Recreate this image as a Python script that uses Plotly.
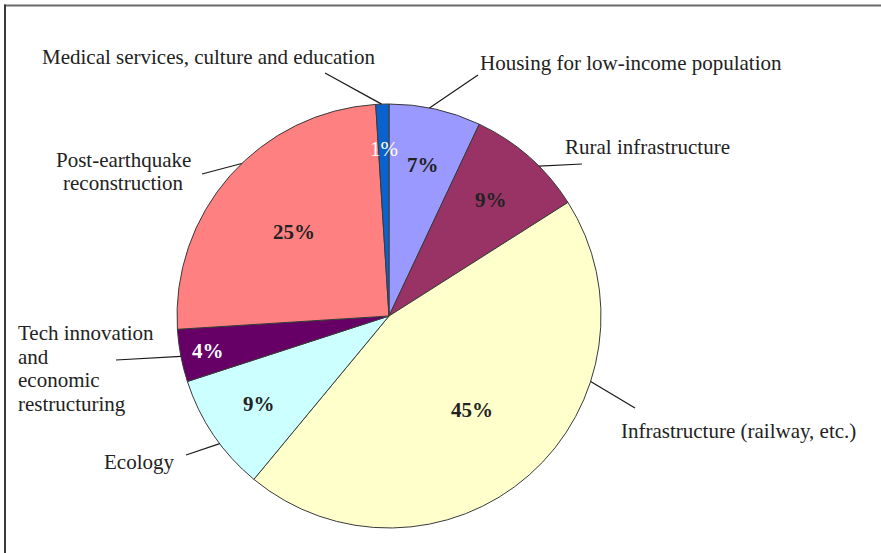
import math
import plotly.graph_objects as go

# Funding structure by sector (percent of total), clockwise from 12 o'clock
sectors = [
    "Housing for low-income population",
    "Rural infrastructure",
    "Infrastructure (railway, etc.)",
    "Ecology",
    "Tech innovation and economic restructuring",
    "Post-earthquake reconstruction",
    "Medical services, culture and education",
]
shares = [7, 9, 45, 9, 4, 25, 1]
slice_colors = ["#9999FF", "#993366", "#FFFFCC", "#CCFFFF", "#660066", "#FF8080", "#0A62CC"]

W, H = 881, 553
CX, CY, R = 389, 316, 212  # pie centre and radius in pixels


def fx(px):
    return px / W


def fy(py):
    return 1 - py / H


def polar(angle_deg, frac):
    a = math.radians(angle_deg)
    return CX + frac * R * math.sin(a), CY - frac * R * math.cos(a)


fig = go.Figure(
    go.Pie(
        labels=sectors,
        values=shares,
        sort=False,
        direction="clockwise",
        rotation=0,
        marker=dict(colors=slice_colors, line=dict(color="#3a3a3a", width=1)),
        textinfo="none",
        hoverinfo="label+percent",
        showlegend=False,
        domain=dict(x=[fx(CX - R), fx(CX + R)], y=[fy(CY + R), fy(CY - R)]),
    )
)

# mid angle of each slice (degrees clockwise from top)
total = sum(shares)
mids = []
acc = 0
for v in shares:
    mids.append((acc + v / 2) / total * 360)
    acc += v

# percentage labels inside the slices
pct_radius = [0.73, 0.73, 0.59, 0.74, 0.87, 0.60, 0.79]
pct_color = ["#222222", "#222222", "#222222", "#222222", "#FFFFFF", "#222222", "#FFFFFF"]
pct_bold = [True, True, True, True, True, True, False]
annotations = []
for v, m, f, c, b in zip(shares, mids, pct_radius, pct_color, pct_bold):
    x, y = polar(m, f)
    txt = f"{round(v / total * 100)}%"
    if b:
        txt = f"<b>{txt}</b>"
    annotations.append(dict(
        x=fx(x), y=fy(y), xref="paper", yref="paper", text=txt, showarrow=False,
        xanchor="center", yanchor="middle",
        font=dict(family="Liberation Serif", size=21, color=c),
    ))

# outside category labels: (text lines, x, first-line y, anchor)
label_layout = [
    (["Housing for low-income population"], 478, 63, "left"),
    (["Rural infrastructure"], 563, 147, "left"),
    (["Infrastructure (railway, etc.)"], 619, 431, "left"),
    (["Ecology"], 139, 462, "center"),
    (["Tech innovation", "and", "economic", "restructuring"], 16, 333, "left"),
    (["Post-earthquake", "reconstruction"], 123, 160, "center"),
    (["Medical services, culture and education"], 40, 57, "left"),
]
LINE_GAP = 23.5
for lines, x, y0, anchor in label_layout:
    for i, line in enumerate(lines):
        annotations.append(dict(
            x=fx(x), y=fy(y0 + i * LINE_GAP), xref="paper", yref="paper", text=line,
            showarrow=False, xanchor=anchor, yanchor="middle",
            font=dict(family="Liberation Serif", size=21, color="#222222"),
        ))

# leader lines: start near the label, end on the pie rim at the given angle
leader_start = [(478, 75), (582, 164), (635, 408), (186, 455), (116, 360), (202, 174), (325, 73)]
leader_angle = [11, 45, 108, 233, 259, 316, 358]
shapes = []
for (sx, sy), ang in zip(leader_start, leader_angle):
    ex, ey = polar(ang, 1.0)
    shapes.append(dict(
        type="line", xref="paper", yref="paper",
        x0=fx(sx), y0=fy(sy), x1=fx(ex), y1=fy(ey),
        line=dict(color="#1a1a1a", width=1.2),
    ))

# frame lines along the top and left edges
shapes.append(dict(type="line", xref="paper", yref="paper",
                   x0=fx(4), y0=fy(5.5), x1=1, y1=fy(5.5),
                   line=dict(color="#6b6b6b", width=2)))
shapes.append(dict(type="line", xref="paper", yref="paper",
                   x0=fx(5), y0=fy(4.5), x1=fx(5), y1=0,
                   line=dict(color="#3a3a3a", width=2)))

fig.update_layout(
    width=W, height=H,
    margin=dict(l=0, r=0, t=0, b=0),
    paper_bgcolor="white",
    plot_bgcolor="white",
    annotations=annotations,
    shapes=shapes,
)

fig.write_html("out.html")
